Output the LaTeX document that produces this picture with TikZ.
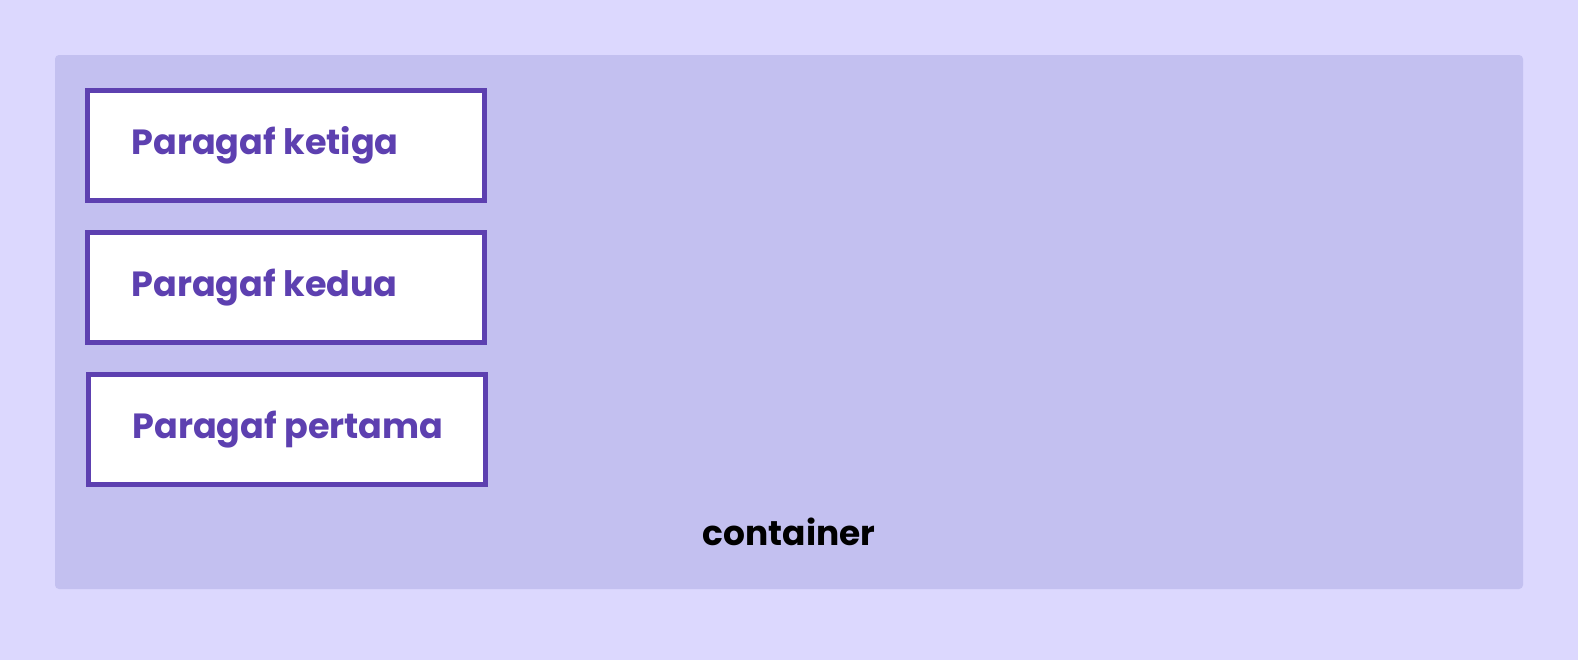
\documentclass[tikz,border=0pt]{standalone}
\usepackage{fontspec}
\setmainfont{Poppins}
\usepackage{tikz}
\usetikzlibrary{positioning}
\definecolor{bgpurple}{HTML}{DCD8FE}
\definecolor{boxpurple}{HTML}{C3C0F0}
\definecolor{inkpurple}{HTML}{5D40B0}
\newcommand{\paraline}[1]{\makebox[154.5pt][l]{#1}}

\begin{document}
\begin{tikzpicture}[x=0.5pt,y=-0.5pt,
	para/.style={draw=inkpurple,line width=2.5pt,fill=white,outer sep=0pt,minimum height=55pt,
		minimum width=198.5pt,inner xsep=22pt,text=inkpurple,
		font=\fontsize{17.5}{21}\selectfont\bfseries}]
	\fill[bgpurple] (0,0) rectangle (1578,660);
	\fill[boxpurple,rounded corners=2pt] (55,55) rectangle (1523,589);
	\node[para] (ketiga) at (286,145.5) {\paraline{Paragaf ketiga}};
	\node[para,below=16pt of ketiga] (kedua) {\paraline{Paragaf kedua}};
	\node[para,below=16pt of kedua,xshift=0.5pt] (pertama) {\paraline{Paragaf pertama}};
	\node[anchor=base,font=\fontsize{17.2}{21}\selectfont\bfseries] (container) at (789,545) {container};
\end{tikzpicture}
\end{document}
